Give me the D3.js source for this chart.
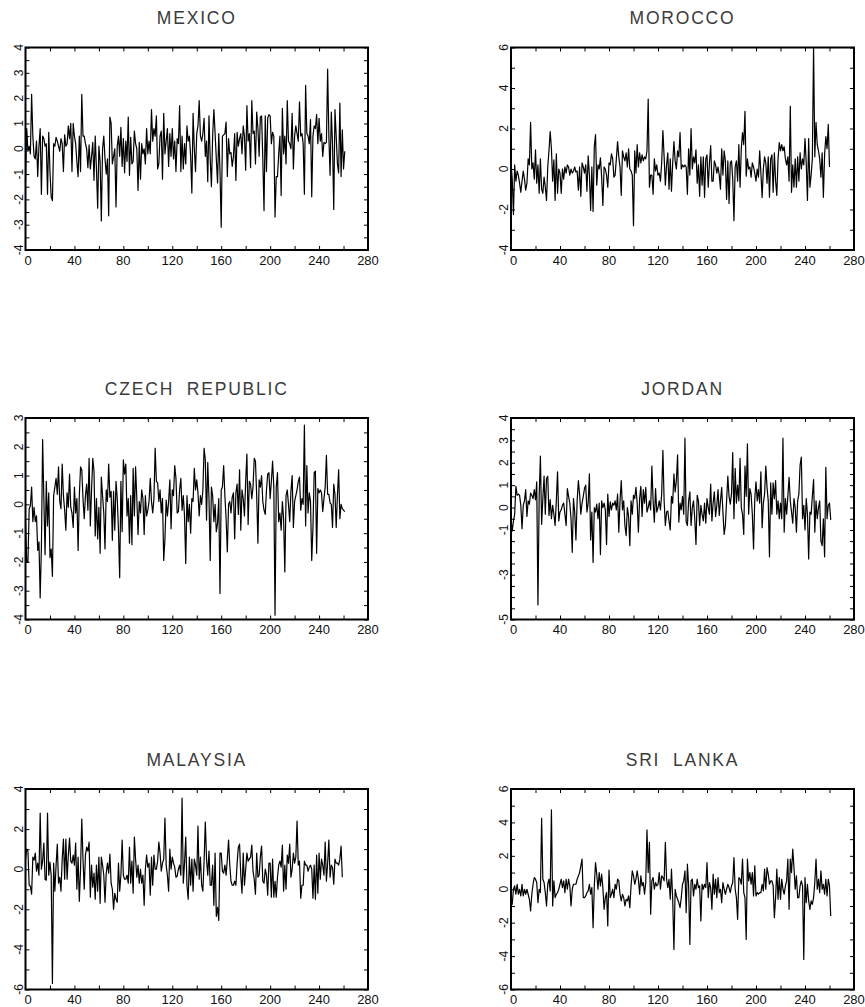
<!DOCTYPE html>
<html>
<head>
<meta charset="utf-8">
<script src="https://cdnjs.cloudflare.com/ajax/libs/d3/7.8.5/d3.min.js"></script>
<style>
  body { margin: 0; background: white; }
  svg text { font-family: "Liberation Sans", Arial, sans-serif; fill: #111; }
  .title { font-size: 17.5px; letter-spacing: 1.8px; word-spacing: 6px; fill: #3a3a3a; }
  .xl { font-size: 13px; }
  .yl { font-size: 12px; }
</style>
</head>
<body>
<div id="chart"></div>
<script>

// series, one value per observation (0..261)
const mexico = [
  -1.3, 0.8, -0.1, 0.1, -0.2, 2.15, 0.5, -0.3, -0.4, 0.3, -1.1, 0.1, 0.8, -1.8, 0.5, 0.4, 0.1, 0.2, -1.8, 0.65,
  -0.9, -1.9, -2.05, 0.2, 0.1, 0.45, 0.3, 0.1, -0.1, 0.4, 0.2, -0.9, 0.55, 0.1, 0.2, 0.9, 0.4, 1.0, -0.9, 1.0,
  0.5, 0.2, -0.5, -1.1, 0.5, -0.9, 2.15, 0.5, 0.5, 0.2, 0.0, -0.75, 0.15, -0.8, -0.3, 0.25, -1.25, 0.5, -0.8, -2.35,
  0.1, -0.5, -2.85, 0.0, 0.5, -0.4, -1.0, -0.4, -2.65, 1.25, 1.0, -0.6, -0.3, 0.0, -2.3, 0.1, 0.5, -0.3, 0.85, -0.7,
  0.4, -0.95, 0.3, -0.5, 1.25, -1.05, 0.45, -0.6, -0.5, 0.7, 0.2, 0.0, -1.65, 0.25, -1.2, 0.2, -0.2, 0.0, -0.6, 0.8,
  -0.2, 0.3, -0.2, 1.55, 0.3, 0.8, 0.5, 1.3, -0.8, -0.6, 0.5, 0.7, -1.2, 1.4, -0.2, 0.3, 0.8, -0.7, 0.6, -0.3,
  0.8, -0.4, 0.3, -0.9, 0.4, 0.2, 1.7, -0.9, 0.5, -0.8, 0.2, -0.6, 0.9, 0.3, 0.5, -0.3, -1.75, 1.4, 0.0, -0.9,
  0.6, 0.9, 1.9, 0.5, 0.3, 0.6, 1.2, -0.3, 0.3, -1.3, 1.3, -0.4, -1.5, 0.5, 1.55, 0.6, -0.4, -1.35, 0.6, -0.9,
  -3.1, 0.5, 0.55, 0.6, 1.05, -1.1, 0.4, -0.2, -0.15, -0.7, -0.3, 0.6, -1.25, 0.65, 0.1, 0.4, 0.6, -0.2, 0.9, 0.5,
  -0.85, 1.7, 0.3, 0.6, -0.75, 1.9, 0.6, 0.7, -0.6, 1.45, 0.8, -0.3, 1.25, 1.3, -0.4, -2.45, 1.3, -0.9, 1.2, 1.35,
  1.3, 0.2, 0.65, 0.5, -2.7, -1.1, -1.1, -0.2, 0.5, -1.85, 1.6, -0.2, 0.5, -0.6, 1.9, 0.3, 0.2, 0.0, 1.4, -0.8,
  0.5, 0.9, 0.6, 0.3, 1.85, 0.5, 0.6, 0.2, -1.8, 2.5, 0.6, 0.5, 0.2, 1.15, -1.9, 0.5, 0.9, 0.8, 1.35, 0.2,
  1.2, 0.3, 0.6, -0.3, 0.25, 0.2, 0.25, 3.15, 0.5, -1.05, 1.45, 0.2, -2.4, 1.55, 0.5, -0.6, -0.95, 1.8, -1.1, 0.75, -0.8, -0.1
];

const morocco = [
  0.35, -0.5, -2.25, 0.2, -0.6, -0.1, -0.3, -0.7, -1.15, -0.6, -0.1, -0.5, -1.05, -0.7, 0.5, 0.2, 2.3, 0.0, 0.3, -0.5,
  0.95, -0.7, 0.2, -1.2, 0.5, -1.0, -1.2, -0.4, -0.9, -1.55, 0.1, 0.9, 1.85, 1.0, -0.6, 0.45, -1.55, 0.75, -1.2, 0.0,
  -0.2, -1.2, 0.0, -0.5, 0.1, -0.2, 0.2, 0.1, -0.3, 0.0, -0.2, -0.1, 0.1, -0.15, -0.1, -1.05, 0.1, -1.35, 0.3, 0.1,
  -0.2, 0.2, -1.1, 0.65, -0.3, -2.05, 0.1, -2.1, 1.1, 1.7, -0.8, 0.2, 0.0, 0.55, -0.4, -1.8, 0.1, 0.0, -0.3, -0.9,
  0.3, 0.2, 0.75, 0.5, -0.4, -0.3, 0.5, 1.35, 0.6, 0.1, -1.3, 0.9, 0.6, 0.4, 0.8, 0.1, 1.0, 0.0, -0.1, -0.3,
  -2.8, 0.9, -0.2, 1.2, 0.1, 0.8, 0.3, 0.7, 0.4, 0.6, 0.5, 0.9, 3.45, -0.9, -0.3, -0.3, -1.25, 0.5, -0.1, 0.2,
  -0.3, -0.2, -0.6, 0.3, 1.9, 0.6, -0.8, 0.2, 0.8, -1.0, 0.5, -1.1, 0.3, 1.35, 0.4, 0.0, 0.9, 0.6, 1.8, 0.0,
  0.2, 0.1, 0.2, 0.1, -1.25, 1.0, -0.3, 2.0, 0.0, 0.6, 0.3, 0.95, -0.7, 0.2, -1.35, 0.6, -0.8, 0.6, -1.4, 0.5,
  0.7, -0.9, 0.3, 1.15, -0.6, -0.6, 0.4, 0.2, -0.2, 0.1, -0.3, -1.0, 1.0, -0.3, 0.9, 0.4, -1.5, 0.4, -1.7, 0.3,
  0.4, -0.5, -2.55, 0.1, 0.4, -0.6, 1.2, -0.9, 1.0, 1.8, 1.2, 2.85, -0.35, 0.5, 0.0, 0.1, -0.4, 0.3, 0.1, -0.2,
  -0.6, 0.0, -0.4, 0.9, -0.2, -1.4, 0.0, 0.6, 0.3, -0.7, 0.6, -1.4, 0.5, 0.7, -1.15, 0.8, -0.6, -1.3, 0.5, 1.3,
  0.9, 1.2, 0.9, 1.1, 0.5, 0.2, 0.6, -0.6, 3.1, -1.15, 0.2, -0.9, 0.5, -0.9, 0.6, -0.6, 0.8, 0.0, 0.5, 0.2,
  1.5, 0.3, -1.55, 1.5, -0.9, -0.3, 0.5, 6.0, 0.6, 2.3, 1.2, 0.9, 0.5, -0.4, 0.8, -1.4, 0.7, 1.6, 1.0, 2.2, 0.1
];

const czech = [
  -0.6, -2.0, -2.0, -0.15, -0.05, 0.6, -0.6, -0.1, -0.6, -0.4, -1.6, -1.3, -3.25, -1.5, 2.25, 0.2, -1.75, 0.8, -0.75, 0.4,
  -1.85, -1.55, -2.5, 0.3, 0.6, 0.9, 0.35, 1.3, 0.1, -0.15, 1.4, 0.3, -0.2, -0.9, 0.4, -0.1, 1.05, -0.1, -0.3, -0.8,
  0.6, -0.3, 0.2, -1.6, 0.3, 1.3, 1.2, 0.2, -0.5, 0.3, 0.7, -0.2, 1.6, -0.75, 0.5, 1.6, 1.15, -1.1, 0.2, -1.2,
  -0.1, -1.7, 0.95, 0.3, -0.3, -1.55, 0.5, 0.1, 1.4, 0.25, 0.45, -1.25, 0.45, -0.9, 0.8, 0.2, -0.9, -2.55, 0.8, -0.95,
  1.55, 1.05, 1.4, -0.4, 0.2, -1.35, 0.3, -1.4, 1.25, -0.4, 1.3, 0.2, -1.05, 0.1, -0.3, 0.5, 0.2, -1.05, 0.3, -0.4,
  -0.2, 0.1, 0.9, 0.1, -0.3, 0.2, 1.95, 0.8, 0.75, 0.1, 0.5, -0.3, 0.2, -1.95, -1.2, 0.15, -0.4, 0.1, 0.85, -0.85,
  0.5, 0.3, 1.35, 0.9, -0.3, -0.25, 0.5, 0.9, -0.2, 0.3, -0.4, -2.05, 0.3, -0.6, 0.0, -1.0, 0.2, 0.1, 1.25, 0.5,
  0.85, 0.4, -0.4, 0.3, 0.0, 0.5, 1.95, 1.55, -0.55, 1.45, 0.2, -1.95, 0.6, 0.3, -0.6, 0.0, -0.95, -0.65, 0.2, -3.1,
  0.5, 0.6, 1.35, 0.3, -0.5, -1.65, 0.0, 0.1, -0.3, 0.25, 0.4, -1.2, 0.4, 0.7, -0.35, 1.2, -0.9, 0.5, 0.2, -0.4,
  0.8, 1.75, -0.7, 0.8, 0.7, 0.2, 0.6, 1.6, 1.5, 0.3, -1.35, 0.85, 0.6, 1.0, 0.1, -0.2, -0.35, 0.5, 1.05, 1.1,
  0.2, 0.8, 1.5, 0.6, -3.85, 0.6, 1.1, -0.6, -0.3, -0.9, 0.1, -0.5, -2.35, 0.3, 0.5, 0.0, -0.6, 0.45, 1.0, -0.8,
  0.1, 0.3, 0.5, 0.8, 0.95, -0.2, 0.2, 0.0, 2.75, -0.75, 1.35, -0.3, 0.4, 0.1, -1.95, -0.8, 1.1, 1.15, -1.7, 0.55,
  0.4, 0.5, 0.4, -0.25, 0.2, 0.6, 1.7, 0.35, 0.35, 0.05, 0.0, -0.8, 0.7, 0.35, -0.8, 0.3, 1.2, -0.5, 0.0, -0.15, -0.2, -0.25
];

const jordan = [
  -0.5, -1.05, -0.6, -0.3, 0.95, 0.55, 0.6, 0.55, 0.1, -0.95, 0.1, 0.3, 0.8, -0.4, 0.3, 0.15, 0.65, 0.55, 0.4, 0.8,
  0.35, 1.15, -4.35, 0.5, 2.3, -0.75, 0.4, 1.4, -0.3, 1.3, 1.4, -0.35, 0.35, -0.5, 0.1, -0.3, -0.8, 0.3, 1.6, -0.6,
  -0.2, -0.1, 0.1, 0.2, -0.3, -0.8, 0.85, 0.5, 0.2, -0.5, -2.0, 0.4, -0.2, -1.45, 0.3, 1.2, 0.6, -0.3, 0.2, 0.5,
  0.85, 1.0, -0.2, 0.2, 1.5, -1.45, -0.2, -2.45, 0.0, -0.2, 0.15, -0.5, 0.2, -2.1, 0.3, 0.0, 0.2, -0.1, -1.65, 0.6,
  -0.4, 0.25, -0.1, 0.2, 0.1, 0.3, -0.1, 0.6, -1.1, 0.3, 1.2, -0.1, 0.3, -0.8, -1.25, 0.0, -0.4, -1.7, 0.3, -0.3,
  0.55, 0.4, 0.9, 0.2, -1.1, 0.4, 0.95, -0.4, 0.8, 0.2, 0.9, -0.2, 0.0, 0.3, -0.1, 1.85, 0.3, -0.65, 0.85, -0.2,
  0.0, 0.3, -0.1, 0.6, 2.55, 0.3, -0.8, -0.2, -0.15, -0.6, -1.0, 0.5, 0.2, 1.5, 0.7, 1.2, 2.35, -0.65, 0.2, -0.1,
  0.5, -0.3, 3.1, -0.65, -0.8, 0.3, 0.7, -0.8, 0.0, 0.3, -0.5, -1.65, 0.55, 0.3, -0.8, 0.1, -0.3, -0.6, 0.2, -0.7,
  0.4, 0.0, -0.3, 1.05, -0.6, 0.2, 0.7, -0.4, 0.1, 0.8, -0.35, 0.3, 0.9, -0.2, -1.2, -0.8, 0.3, 1.4, 0.5, 0.15,
  0.6, 2.45, -0.5, 1.75, 0.2, 1.0, 0.3, 2.2, 0.0, -0.3, -1.2, 1.85, 0.5, 2.85, -0.3, 0.85, 0.6, -0.3, -1.85, 0.4,
  1.15, 0.3, 0.8, 0.2, 1.6, -0.9, 0.2, 0.6, 1.85, 0.9, 0.3, -2.2, 1.1, -0.3, 1.1, 0.4, 1.2, -0.3, 0.3, -0.5,
  0.2, -0.5, 3.1, -1.1, 0.4, -0.3, 0.5, 1.35, 0.3, -0.2, -0.7, 0.4, 0.0, -1.1, 0.3, 0.6, 1.9, 2.25, -0.5, 0.1,
  -1.0, 0.4, -0.3, -2.3, -0.2, -0.3, 0.5, 1.25, -1.1, 0.3, -0.5, 0.0, 0.3, -1.5, -1.7, -0.5, -2.2, 1.8, -0.5, 0.1, 0.2, -0.55
];

const malaysia = [
  0.5, 1.0, 0.9, -0.8, -0.85, -1.25, 0.6, 0.45, 0.8, -0.1, 0.3, -0.3, 2.8, 0.0, 0.4, 1.3, -0.5, -0.55, 2.8, -0.3,
  0.35, -0.3, -5.7, 0.3, -1.1, 0.2, 1.25, -0.7, -0.4, -1.1, 0.5, 1.5, -0.5, 1.5, -0.5, 0.7, 1.55, 0.4, 0.3, 0.7,
  0.2, 1.3, -1.0, 0.6, -1.6, 0.0, 2.5, 0.5, -1.0, 0.7, 1.1, 0.9, 1.35, -1.4, 0.2, -0.9, -0.2, -1.5, 0.2, -1.1,
  0.6, -1.7, 0.6, 0.2, -0.3, -1.65, -0.2, 0.3, -0.2, 0.75, -0.7, -1.0, -2.0, -1.2, -1.5, -1.65, 0.3, -1.1, -0.3, 1.45,
  -0.3, -0.5, -0.5, -0.3, -0.7, 1.1, -0.7, 0.4, -1.2, 1.6, 0.5, -0.4, 0.2, -0.7, 0.0, -0.7, -0.3, -1.8, 0.0, 0.7,
  0.1, 0.3, -1.3, 0.6, -0.8, 0.7, 0.0, 0.0, 0.4, 1.35, 0.8, -0.1, 0.3, 0.5, 2.55, 0.2, -0.3, -1.1, 1.0, 0.0,
  0.6, 0.3, 0.1, -0.4, -0.35, 0.0, 0.2, -0.3, 3.55, -0.7, 0.3, 1.6, -0.8, -1.5, 0.6, -0.8, 0.5, -1.1, 0.5, 0.2,
  -0.3, 2.15, -0.5, 0.6, -0.8, -1.1, 0.4, 2.35, 0.5, -0.3, 0.9, -0.8, -0.8, 0.2, -1.8, 0.8, -2.35, -1.9, -2.55, 0.8,
  0.8, -0.1, -0.2, 0.2, -0.3, 0.5, 1.45, 0.2, -0.6, -0.8, -0.8, -0.6, -0.8, 0.3, 1.1, 1.25, -0.3, -1.2, 0.8, -0.8,
  0.0, 0.8, 0.4, 0.5, 0.6, 1.2, -0.1, -0.5, -1.25, 0.8, -0.4, -0.3, 0.6, 1.15, -0.6, -0.7, 0.0, -0.3, -1.3, 0.3,
  0.3, -1.4, 0.5, -1.4, -0.6, -1.4, -0.4, 0.2, 0.4, 0.1, 1.2, -1.1, 0.2, -1.0, 0.7, 0.3, 1.25, -0.4, 0.0, 0.8,
  0.3, 0.6, 2.4, 0.2, 0.4, -1.45, -0.8, -0.8, 0.4, 0.2, 0.2, -0.1, 0.1, 0.2, 0.0, -1.45, 0.2, -1.5, 0.7, -1.2,
  0.8, -0.5, 0.5, 0.2, -0.3, 1.35, -0.6, 0.3, 1.45, -0.4, 0.2, 0.1, -0.75, 0.5, 0.3, 0.3, 0.2, 0.5, 1.15, -0.4
];

const sriLanka = [
  -0.9, -0.9, 0.0, 0.2, -0.3, 0.3, -0.3, 0.0, -0.4, 0.3, -0.4, 0.0, -0.3, 0.0, -0.3, -0.6, -1.3, -0.3, 0.3, 0.7,
  0.6, 0.4, -0.8, 0.0, -0.2, 4.25, 0.6, 0.4, -0.2, -1.0, 0.3, 0.6, -0.1, 4.75, -1.0, 0.5, -0.5, -0.3, -0.2, 0.0,
  0.3, 0.6, 0.1, 0.5, -0.2, 0.6, 0.0, 0.6, 0.2, -1.0, 0.0, 0.3, 0.3, 0.3, 0.6, 0.8, 1.0, 1.4, 1.8, -0.5,
  -0.5, -0.4, -0.2, -0.1, 0.3, -0.3, 0.1, -2.3, 0.2, 1.6, 0.9, 0.0, 1.0, 0.2, 0.9, 0.1, -1.2, -0.5, -0.2, -2.2,
  1.15, -0.5, -0.3, 0.0, -0.5, 0.3, 0.0, 0.6, 0.5, -0.3, -0.7, -0.3, -0.5, -1.0, -0.6, -0.7, -0.4, -1.1, 0.2, 1.1,
  0.8, 0.3, 0.6, 1.1, 0.6, -0.3, 0.8, 0.2, 0.4, -0.3, 0.4, 3.55, 1.0, 2.8, -1.5, 0.5, 0.7, 0.0, 0.4, 0.2,
  0.3, 1.0, 0.0, 0.8, 0.7, 0.5, 2.8, 0.6, 0.1, 0.6, -0.6, 1.2, -0.6, -3.6, 0.0, -0.4, -0.6, -0.8, -1.1, -0.5,
  0.3, 0.5, 1.1, -1.4, 1.5, 0.2, -3.3, 0.5, 0.6, -0.4, 0.3, 0.0, 0.6, 0.1, 0.2, -1.9, 0.3, 0.0, 0.3, 0.1,
  1.6, -0.5, 0.4, 0.1, -1.2, 0.9, -0.3, 0.6, -0.5, 0.7, -0.2, 0.0, -0.8, 0.4, 0.0, -0.3, 0.0, 0.3, 0.1, -0.2,
  0.2, 0.4, 1.9, 0.0, -0.5, -1.8, 0.7, 0.6, 0.3, 1.8, -0.2, -0.5, -3.0, 1.8, 0.5, 1.0, 0.3, 1.0, -0.4, 1.4,
  -0.4, -0.2, -0.3, -0.2, -0.2, 0.3, -0.1, 1.2, 0.0, 1.3, 0.9, 0.3, 0.5, 0.5, 0.2, -1.7, -0.5, 1.2, -0.6, 0.7,
  -0.6, 0.6, 0.0, -0.3, 0.2, 0.5, 1.8, -1.2, 1.8, 1.0, 2.4, 1.3, 0.0, 0.8, -0.5, -0.5, 0.2, 0.5, 0.2, -4.2,
  0.7, -0.8, 0.3, -0.7, -1.2, -0.7, -0.9, -0.5, 0.4, 1.8, 0.0, 0.6, -0.2, 1.1, 0.0, 0.3, -0.3, 0.6, -0.4, 0.6, 0.2, -1.6
];

// titles and axis ticks
const titles = ["MEXICO", "MOROCCO", "CZECH REPUBLIC", "JORDAN", "MALAYSIA", "SRI LANKA"];
const series = [mexico, morocco, czech, jordan, malaysia, sriLanka];
const yDomains = [[-4, 4], [-4, 6], [-4, 3], [-5, 4], [-6, 4], [-6, 6]];
const yLabels = [
  [-4, -3, -2, -1, 0, 1, 2, 3, 4],
  [-4, -2, 0, 2, 4, 6],
  [-4, -3, -2, -1, 0, 1, 2, 3],
  [-5, -3, -1, 0, 1, 2, 3, 4],
  [-6, -4, -2, 0, 2, 4],
  [-6, -4, -2, 0, 2, 4, 6]
];
const yMinorStep = [0.5, 1, 0.5, 0.5, 1, 1];
const xLabels = [0, 40, 80, 120, 160, 200, 240, 280];
const xMinor = [20, 40, 60, 80, 100, 120, 140, 160, 180, 200, 220, 240, 260];

// panel frames
const cols = [[25.5, 368], [511, 854]];
const rows = [[47.5, 250], [418, 619.5], [789, 989.5]];

const svg = d3.select('#chart')
  .append('svg')
  .attr('width', 865)
  .attr('height', 1007);

series.forEach(function (data, k) {
  let c = cols[k % 2], r = rows[Math.floor(k / 2)];

  let x = d3.scaleLinear().domain([0, 280]).range(c);
  let y = d3.scaleLinear().domain(yDomains[k]).range([r[1], r[0]]);

  let g = svg.append('g');

  // title
  g.append('text')
    .attr('class', 'title')
    .attr('x', (c[0] + c[1]) / 2)
    .attr('y', r[0] - 23.5)
    .attr('text-anchor', 'middle')
    .text(titles[k]);

  // inward ticks on all four sides
  let yt = d3.range(yDomains[k][0], yDomains[k][1] + 0.001, yMinorStep[k]);
  let tick = function (sel) { sel.select('.domain').remove(); sel.selectAll('line').attr('stroke', '#000'); };
  g.append('g').attr('transform', 'translate(0,' + r[1] + ')')
    .call(d3.axisBottom(x).tickValues(xMinor).tickSize(-4).tickFormat('')).call(tick);
  g.append('g').attr('transform', 'translate(0,' + r[0] + ')')
    .call(d3.axisTop(x).tickValues(xMinor).tickSize(-4).tickFormat('')).call(tick);
  g.append('g').attr('transform', 'translate(' + c[0] + ',0)')
    .call(d3.axisLeft(y).tickValues(yt).tickSize(-4).tickFormat('')).call(tick);
  g.append('g').attr('transform', 'translate(' + c[1] + ',0)')
    .call(d3.axisRight(y).tickValues(yt).tickSize(-4).tickFormat('')).call(tick);

  // x labels
  g.selectAll('.xl')
    .data(xLabels)
    .enter()
    .append('text')
    .attr('class', 'xl')
    .attr('x', function (d) { return x(d) + (d === 0 ? 2.5 : 0); })
    .attr('y', r[1] + 14.5)
    .attr('text-anchor', 'middle')
    .text(function (d) { return d; });

  // y labels, rotated
  g.selectAll('.yl')
    .data(yLabels[k])
    .enter()
    .append('text')
    .attr('class', 'yl')
    .attr('text-anchor', 'middle')
    .attr('transform', function (d) {
      return 'translate(' + (c[0] - 3) + ',' + y(d) + ') rotate(-90)';
    })
    .text(function (d) { return d < 0 ? '-' + (-d) : d; });

  // series line
  g.append('path')
    .datum(data)
    .attr('fill', 'none')
    .attr('stroke', '#000')
    .attr('stroke-width', 1.2)
    .attr('stroke-linejoin', 'round')
    .attr('d', d3.line()
      .x(function (d, i) { return x(i); })
      .y(function (d) { return y(d); }));

  // frame
  g.append('rect')
    .attr('x', c[0])
    .attr('y', r[0])
    .attr('width', c[1] - c[0])
    .attr('height', r[1] - r[0])
    .attr('fill', 'none')
    .attr('stroke', '#000')
    .attr('stroke-width', 2);
});

</script>
</body>
</html>
